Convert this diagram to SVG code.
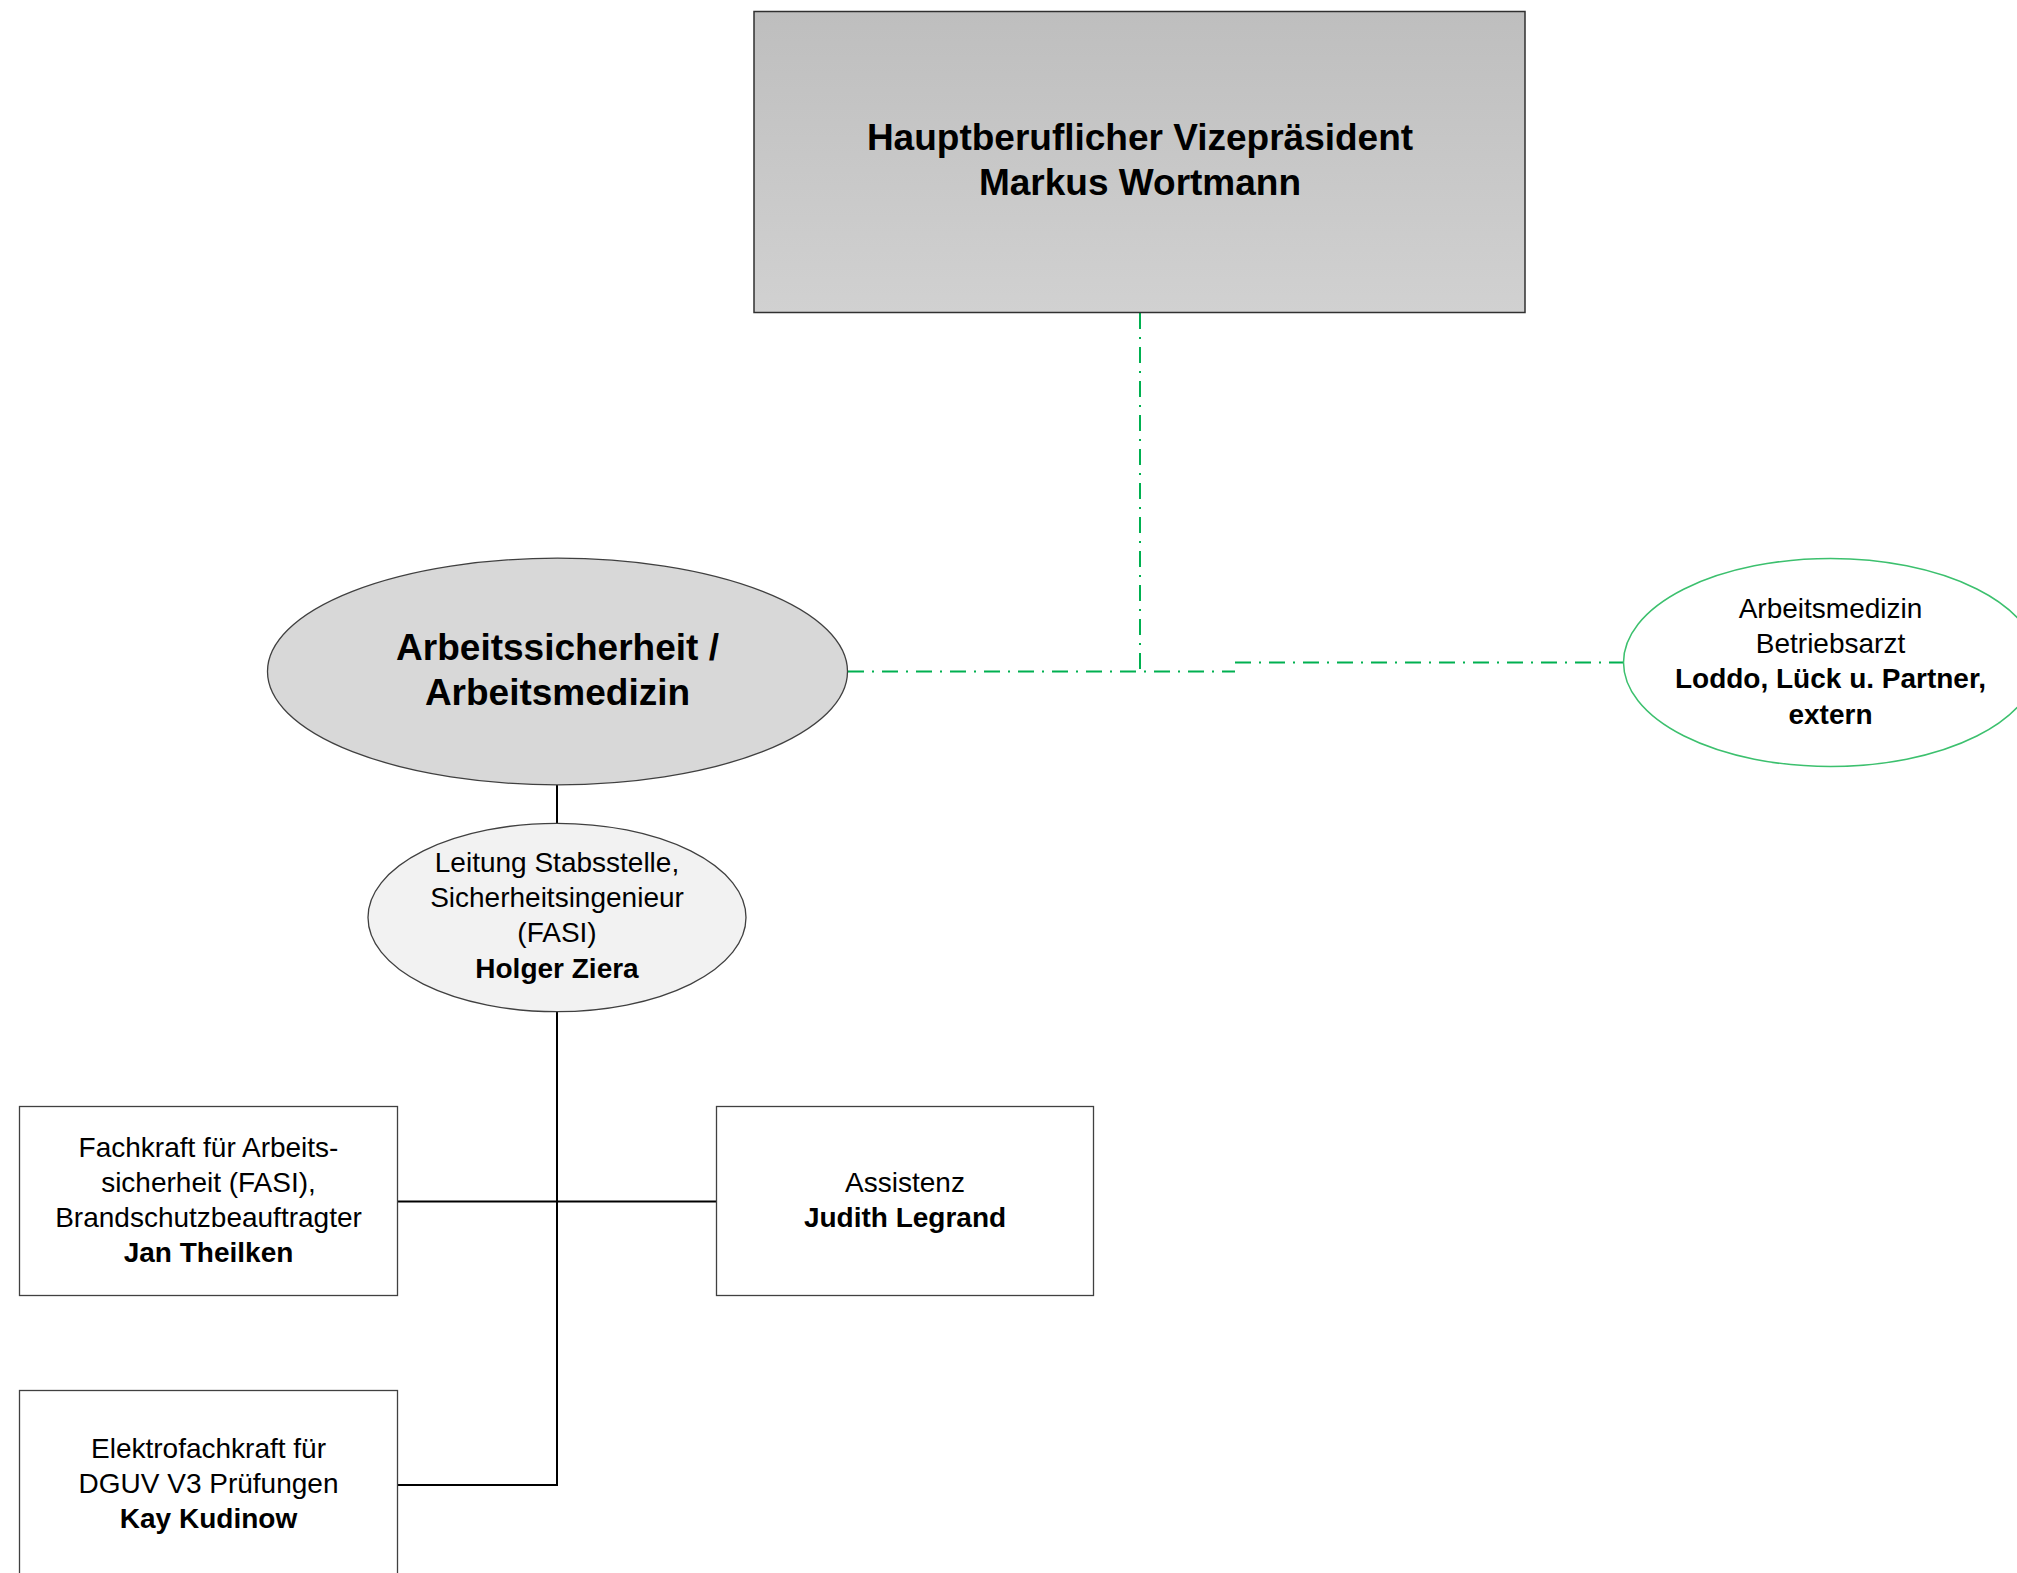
<svg xmlns="http://www.w3.org/2000/svg" width="2017" height="1573" viewBox="0 0 2017 1573">
  <style>
    .t { font-family: "Liberation Sans", Arial, sans-serif; fill: #000; text-anchor: middle; }
    .r { font-size: 28px; font-weight: normal; }
    .b { font-size: 28px; font-weight: bold; }
    .h { font-size: 37px; font-weight: bold; }
    .box { fill: #ffffff; stroke: #404040; stroke-width: 1.3; }
    .solid { fill: none; stroke: #000; stroke-width: 2; }
    .dash { fill: none; stroke: #00b050; stroke-width: 2; stroke-dasharray: 16 8 2 8; }
  </style>
  <defs>
    <linearGradient id="gTop" x1="0" y1="0" x2="0" y2="1">
      <stop offset="0" stop-color="#bebebe"/>
      <stop offset="1" stop-color="#d1d1d1"/>
    </linearGradient>
  </defs>
  <rect width="2017" height="1573" fill="#ffffff"/>

  <g id="connectors">
    <path class="dash" d="M1140 313 V671.5"/>
    <path class="dash" d="M848 671.5 H1235"/>
    <path class="dash" d="M1235 662.5 H1624"/>
    <path class="solid" d="M557 785 V823"/>
    <path class="solid" d="M557 1012 V1485 H397"/>
    <path class="solid" d="M397 1201.5 H717"/>
  </g>

  <g id="node-vizepraesident">
    <rect x="754" y="11.5" width="771" height="301" fill="url(#gTop)" stroke="#303030" stroke-width="1.5"/>
    <text class="t h" x="1140" y="150">Hauptberuflicher Vizepräsident</text>
    <text class="t h" x="1140" y="195">Markus Wortmann</text>
  </g>

  <g id="node-arbeitssicherheit">
    <ellipse cx="557.5" cy="671.5" rx="290" ry="113.3" fill="#d8d8d8" stroke="#404040" stroke-width="1.3"/>
    <text class="t h" x="557.5" y="660">Arbeitssicherheit /</text>
    <text class="t h" x="557.5" y="705">Arbeitsmedizin</text>
  </g>

  <g id="node-betriebsarzt">
    <ellipse cx="1830.5" cy="662.5" rx="207" ry="104" fill="#ffffff" stroke="#3cc06e" stroke-width="1.5"/>
    <text class="t r" x="1830.5" y="618">Arbeitsmedizin</text>
    <text class="t r" x="1830.5" y="653">Betriebsarzt</text>
    <text class="t b" x="1830.5" y="688">Loddo, Lück u. Partner,</text>
    <text class="t b" x="1830.5" y="724">extern</text>
  </g>

  <g id="node-leitung">
    <ellipse cx="557" cy="917.5" rx="189" ry="94.2" fill="#f2f2f2" stroke="#404040" stroke-width="1.3"/>
    <text class="t r" x="557" y="872">Leitung Stabsstelle,</text>
    <text class="t r" x="557" y="907">Sicherheitsingenieur</text>
    <text class="t r" x="557" y="942">(FASI)</text>
    <text class="t b" x="557" y="978">Holger Ziera</text>
  </g>

  <g id="node-fasi">
    <rect class="box" x="19.5" y="1106.5" width="378" height="189"/>
    <text class="t r" x="208.5" y="1157">Fachkraft für Arbeits-</text>
    <text class="t r" x="208.5" y="1192">sicherheit (FASI),</text>
    <text class="t r" x="208.5" y="1227">Brandschutzbeauftragter</text>
    <text class="t b" x="208.5" y="1262">Jan Theilken</text>
  </g>

  <g id="node-assistenz">
    <rect class="box" x="716.5" y="1106.5" width="377" height="189"/>
    <text class="t r" x="905" y="1192">Assistenz</text>
    <text class="t b" x="905" y="1227">Judith Legrand</text>
  </g>

  <g id="node-elektro">
    <rect class="box" x="19.5" y="1390.5" width="378" height="189"/>
    <text class="t r" x="208.5" y="1458">Elektrofachkraft für</text>
    <text class="t r" x="208.5" y="1493">DGUV V3 Prüfungen</text>
    <text class="t b" x="208.5" y="1528">Kay Kudinow</text>
  </g>
</svg>
